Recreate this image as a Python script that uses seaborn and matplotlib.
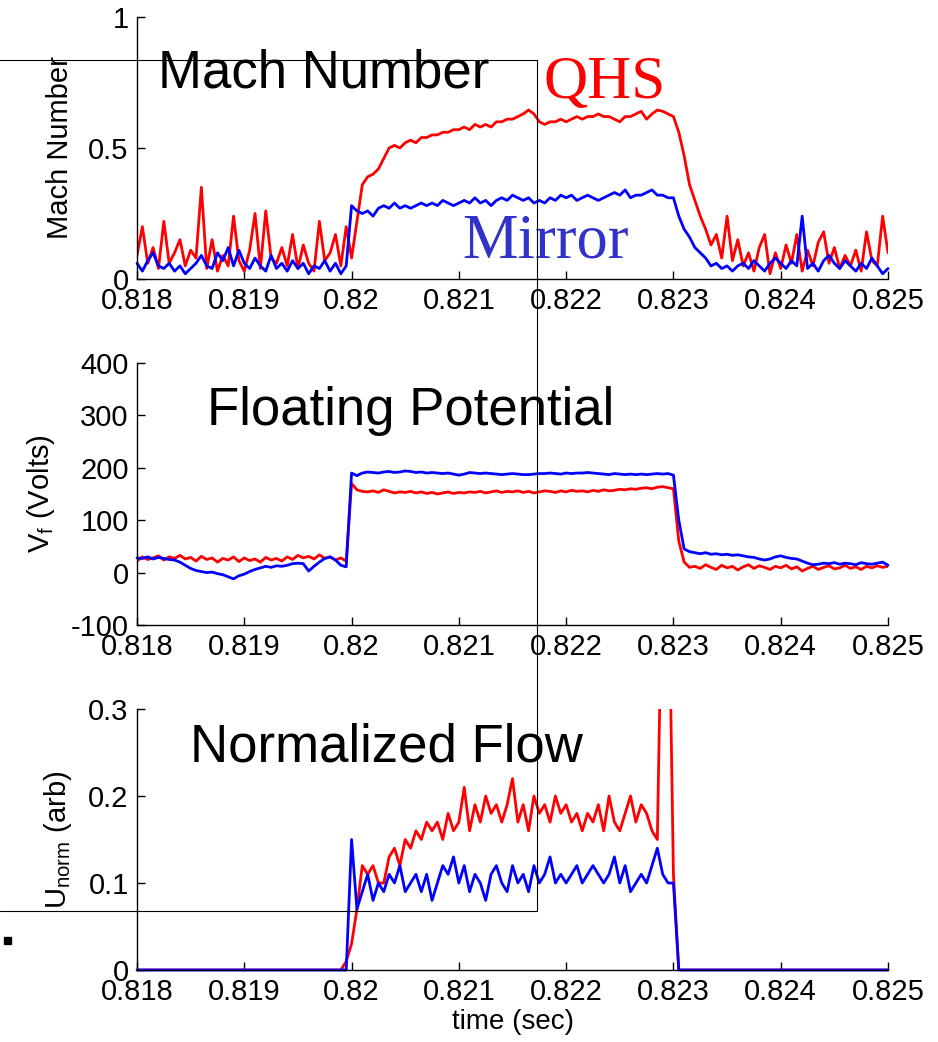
import numpy as np
import matplotlib
matplotlib.use('Agg')
import matplotlib.pyplot as plt
from matplotlib.lines import Line2D
from matplotlib.patches import Rectangle
import seaborn as sns

# sampling grid, 50 us steps from 0.818 to 0.825 sec
time_sec = np.round(0.818 + np.arange(141) * 0.00005, 6)

mach_qhs = [
    0.09, 0.20, 0.06, 0.12, 0.04, 0.22, 0.06, 0.10, 0.15, 0.05,
    0.11, 0.08, 0.35, 0.04, 0.15, 0.03, 0.09, 0.05, 0.24, 0.07,
    0.03, 0.11, 0.25, 0.04, 0.26, 0.08, 0.06, 0.12, 0.05, 0.17,
    0.04, 0.13, 0.06, 0.03, 0.22, 0.07, 0.10, 0.17, 0.05, 0.20,
    0.08, 0.22, 0.36, 0.39, 0.40, 0.42, 0.46, 0.50, 0.51, 0.50,
    0.52, 0.53, 0.52, 0.54, 0.54, 0.55, 0.55, 0.56, 0.56, 0.57,
    0.57, 0.58, 0.57, 0.59, 0.58, 0.59, 0.58, 0.60, 0.60, 0.61,
    0.61, 0.62, 0.63, 0.645, 0.63, 0.60, 0.59, 0.60, 0.60, 0.61,
    0.60, 0.61, 0.62, 0.61, 0.62, 0.62, 0.63, 0.62, 0.62, 0.61,
    0.60, 0.62, 0.62, 0.63, 0.64, 0.61, 0.63, 0.645, 0.64, 0.63,
    0.62, 0.56, 0.47, 0.36, 0.30, 0.24, 0.19, 0.13, 0.17, 0.08,
    0.24, 0.07, 0.15, 0.05, 0.10, 0.03, 0.12, 0.17, 0.02, 0.10,
    0.04, 0.13, 0.06, 0.17, 0.03, 0.11, 0.05, 0.14, 0.18, 0.06,
    0.12, 0.04, 0.09, 0.05, 0.11, 0.03, 0.18, 0.07, 0.05, 0.24,
    0.10,
]
mach_mirror = [
    0.06, 0.03, 0.07, 0.10, 0.05, 0.04, 0.06, 0.03, 0.05, 0.02,
    0.04, 0.06, 0.09, 0.05, 0.04, 0.10, 0.07, 0.12, 0.05, 0.11,
    0.06, 0.04, 0.08, 0.05, 0.03, 0.09, 0.04, 0.06, 0.03, 0.07,
    0.04, 0.06, 0.02, 0.05, 0.04, 0.07, 0.03, 0.06, 0.02, 0.05,
    0.28, 0.26, 0.25, 0.26, 0.24, 0.27, 0.28, 0.27, 0.29, 0.27,
    0.28, 0.27, 0.28, 0.29, 0.28, 0.29, 0.28, 0.30, 0.29, 0.28,
    0.29, 0.30, 0.29, 0.31, 0.29, 0.30, 0.28, 0.30, 0.31, 0.30,
    0.32, 0.31, 0.30, 0.31, 0.29, 0.30, 0.29, 0.31, 0.30, 0.32,
    0.31, 0.32, 0.30, 0.31, 0.32, 0.31, 0.30, 0.31, 0.32, 0.33,
    0.32, 0.34, 0.31, 0.32, 0.32, 0.33, 0.34, 0.32, 0.32, 0.31,
    0.31, 0.24, 0.19, 0.16, 0.12, 0.10, 0.08, 0.05, 0.06, 0.04,
    0.05, 0.03, 0.05, 0.06, 0.04, 0.07, 0.05, 0.03, 0.06, 0.08,
    0.06, 0.04, 0.07, 0.05, 0.24, 0.04, 0.06, 0.03, 0.07, 0.09,
    0.06, 0.04, 0.07, 0.05, 0.03, 0.06, 0.04, 0.08, 0.05, 0.02,
    0.04,
]
vf_qhs = [
    22, 30, 25, 28, 32, 24, 30, 27, 33, 26,
    29, 22, 31, 25, 28, 20, 27, 24, 30, 21,
    28, 23, 26, 20, 29, 24, 27, 22, 30, 25,
    33, 28, 31, 26, 34, 27, 30, 24, 28, 22,
    170, 158, 155, 154, 156, 153, 158, 155, 152, 154,
    153, 155, 152, 154, 151, 153, 150, 152, 154, 151,
    153, 152, 154, 153, 155, 152, 154, 156, 153, 155,
    154, 156, 153, 155, 152, 154, 156, 155, 153, 156,
    154, 157, 155, 156, 154, 157, 155, 158, 156, 157,
    159, 158, 160, 159, 161, 162, 160, 163, 164, 162,
    160, 60, 20, 10, 12, 8, 15, 10, 6, 14,
    9, 12, 5, 11, 15, 8, 13, 10, 6, 12,
    9, 14, 7, 11, 3, 8, 12, 6, 10, 13,
    7, 9, 14, 8, 11, 6, 12, 9, 13, 10,
    12,
]
vf_mirror = [
    28, 27, 30, 26, 29, 27, 25, 24, 20, 14,
    8, 4, 2, 0, 1, -2, -4, -8, -12, -6,
    -3, 2, 6, 9, 12, 10, 13, 12, 14, 17,
    18, 17, 3, 12, 20, 27, 30, 24, 14, 11,
    190, 185, 190, 192, 191, 190, 192, 193, 191, 192,
    194, 193, 191, 192, 190, 191, 190, 189, 190, 188,
    186, 188, 191, 190, 189, 190, 189, 188, 187, 188,
    189, 188, 187, 187, 188, 189, 189, 190, 189, 188,
    190, 189, 190, 190, 191, 190, 189, 188, 187, 189,
    188, 187, 188, 187, 188, 187, 188, 189, 188, 189,
    186, 100, 45, 40, 38, 36, 38, 35, 36, 34,
    35, 33, 34, 32, 30, 29, 26, 24, 26, 30,
    32, 29, 27, 26, 22, 18, 15, 16, 18, 17,
    19, 16, 18, 17, 15, 19, 17, 16, 18, 20,
    14,
]
unorm_qhs = [
    0, 0, 0, 0, 0, 0, 0, 0, 0, 0,
    0, 0, 0, 0, 0, 0, 0, 0, 0, 0,
    0, 0, 0, 0, 0, 0, 0, 0, 0, 0,
    0, 0, 0, 0, 0, 0, 0, 0, 0, 0.01,
    0.03, 0.07, 0.12, 0.11, 0.12, 0.10, 0.10, 0.13, 0.14, 0.12,
    0.15, 0.14, 0.16, 0.15, 0.17, 0.16, 0.17, 0.15, 0.18, 0.16,
    0.17, 0.21, 0.16, 0.19, 0.17, 0.20, 0.18, 0.19, 0.17, 0.19,
    0.22, 0.17, 0.19, 0.16, 0.20, 0.18, 0.19, 0.17, 0.20, 0.18,
    0.19, 0.17, 0.18, 0.16, 0.18, 0.17, 0.19, 0.16, 0.20, 0.17,
    0.16, 0.18, 0.20, 0.17, 0.19, 0.18, 0.16, 0.15, 0.50, 0.50,
    0.11, 0, 0, 0, 0, 0, 0, 0, 0, 0,
    0, 0, 0, 0, 0, 0, 0, 0, 0, 0,
    0, 0, 0, 0, 0, 0, 0, 0, 0, 0,
    0, 0, 0, 0, 0, 0, 0, 0, 0, 0,
    0,
]
unorm_mirror = [
    0, 0, 0, 0, 0, 0, 0, 0, 0, 0,
    0, 0, 0, 0, 0, 0, 0, 0, 0, 0,
    0, 0, 0, 0, 0, 0, 0, 0, 0, 0,
    0, 0, 0, 0, 0, 0, 0, 0, 0, 0,
    0.15, 0.07, 0.09, 0.11, 0.08, 0.10, 0.09, 0.11, 0.10, 0.12,
    0.09, 0.10, 0.11, 0.09, 0.11, 0.08, 0.10, 0.12, 0.11, 0.13,
    0.10, 0.12, 0.09, 0.11, 0.10, 0.08, 0.11, 0.12, 0.10, 0.09,
    0.12, 0.10, 0.11, 0.09, 0.12, 0.10, 0.11, 0.13, 0.10, 0.11,
    0.10, 0.11, 0.12, 0.10, 0.11, 0.12, 0.11, 0.10, 0.11, 0.13,
    0.10, 0.12, 0.09, 0.10, 0.11, 0.10, 0.12, 0.14, 0.11, 0.10,
    0.10, 0, 0, 0, 0, 0, 0, 0, 0, 0,
    0, 0, 0, 0, 0, 0, 0, 0, 0, 0,
    0, 0, 0, 0, 0, 0, 0, 0, 0, 0,
    0, 0, 0, 0, 0, 0, 0, 0, 0, 0,
    0,
]

x_ticks = [0.818, 0.819, 0.820, 0.821, 0.822, 0.823, 0.824, 0.825]
x_tick_labels = ['0.818', '0.819', '0.82', '0.821', '0.822', '0.823', '0.824', '0.825']
mach_ticks = [0, 0.5, 1]
mach_tick_labels = ['0', '0.5', '1']
vf_ticks = [-100, 0, 100, 200, 300, 400]
vf_tick_labels = ['-100', '0', '100', '200', '300', '400']
unorm_ticks = [0, 0.1, 0.2, 0.3]
unorm_tick_labels = ['0', '0.1', '0.2', '0.3']

sns.set_theme(style='ticks')
plt.rcParams['font.family'] = ['Liberation Sans', 'DejaVu Sans']
plt.rcParams['text.color'] = 'black'
plt.rcParams['mathtext.fontset'] = 'custom'
plt.rcParams['mathtext.rm'] = 'Liberation Sans'

W, H = 938, 1042
fig = plt.figure(figsize=(W / 100, H / 100), dpi=100)
fig.patch.set_facecolor('white')


def px_axes(left, top, right, bottom):
    return fig.add_axes([left / W, 1 - bottom / H, (right - left) / W, (bottom - top) / H])


ax1 = px_axes(137, 17, 888, 279)
ax2 = px_axes(137, 363, 888, 625)
ax3 = px_axes(137, 709, 888, 970)

panels = [
    (ax1, mach_qhs, mach_mirror, mach_ticks, mach_tick_labels, 'Mach Number'),
    (ax2, vf_qhs, vf_mirror, vf_ticks, vf_tick_labels, r'$\mathregular{V_f}$ (Volts)'),
    (ax3, unorm_qhs, unorm_mirror, unorm_ticks, unorm_tick_labels,
     r'$\mathregular{U_{norm}}$ (arb)'),
]

for ax, red_vals, blue_vals, yt, ytl, ylab in panels:
    ax.set_facecolor('white')
    sns.lineplot(x=time_sec, y=red_vals, color='#ff0000', linewidth=2, ax=ax, legend=False)
    sns.lineplot(x=time_sec, y=blue_vals, color='#0000ff', linewidth=2, ax=ax,
                 legend=False, clip_on=False)
    ax.set_xlim(0.818, 0.825)
    ax.set_ylim(yt[0], yt[-1])
    ax.set_xticks(x_ticks)
    ax.set_xticklabels(x_tick_labels)
    ax.set_yticks(yt)
    ax.set_yticklabels(ytl)
    sns.despine(ax=ax)
    for side in ['left', 'bottom']:
        ax.spines[side].set_color('black')
        ax.spines[side].set_linewidth(1.0)
    ax.tick_params(direction='in', length=6, width=1, labelsize=21, colors='black', pad=6)
    ax.set_ylabel(ylab, fontsize=21, labelpad=10, color='black')
    ax.set_xlabel('')

ax3.set_xlabel('time (sec)', fontsize=20, labelpad=2, color='black')

# panel captions
fig.text(158 / W, 1 - 88 / H, 'Mach Number', fontsize=38, color='black', va='baseline', ha='left')
fig.text(207 / W, 1 - 425 / H, 'Floating Potential', fontsize=38, color='black',
         va='baseline', ha='left')
fig.text(190 / W, 1 - 761 / H, 'Normalized Flow', fontsize=38, color='black',
         va='baseline', ha='left')
fig.text(543 / W, 1 - 98 / H, 'QHS', fontsize=44, color='#ff0000',
         family='Liberation Serif', va='baseline', ha='left')
fig.text(462 / W, 1 - 258 / H, 'Mirror', fontsize=45, color='#3232c8',
         family='Liberation Serif', va='baseline', ha='left')

# stray frame lines left over in the original figure
fig.add_artist(Line2D([0, 537 / W, 537 / W, 0], [1 - 60 / H, 1 - 60 / H, 1 - 911 / H, 1 - 911 / H],
                      color='black', linewidth=0.8, transform=fig.transFigure, zorder=10))
fig.add_artist(Rectangle((4 / W, 1 - 944 / H), 7 / W, 7 / H, color='black',
                         transform=fig.transFigure, zorder=10))

fig.savefig('out.png', dpi=100)
